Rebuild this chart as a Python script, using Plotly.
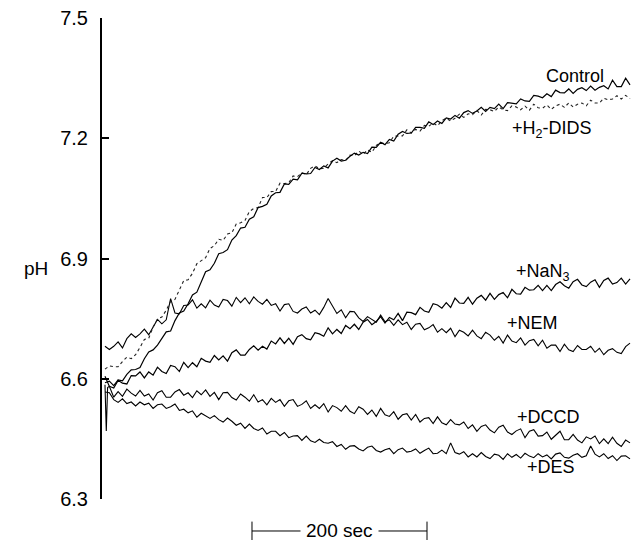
import plotly.graph_objects as go

# time axis (s), shared sampling grid
T = list(range(0, 605, 5))

control = [
    6.590, 6.594, 6.583, 6.597, 6.595, 6.611, 6.622, 6.623, 6.628, 6.650,
    6.667, 6.672, 6.684, 6.701, 6.717, 6.719, 6.745, 6.764, 6.769, 6.787,
    6.809, 6.816, 6.843, 6.867, 6.872, 6.888, 6.912, 6.915, 6.922, 6.946,
    6.957, 6.976, 6.978, 6.998, 7.004, 7.027, 7.030, 7.035, 7.056, 7.064,
    7.065, 7.086, 7.085, 7.098, 7.096, 7.113, 7.111, 7.112, 7.127, 7.122,
    7.131, 7.126, 7.143, 7.150, 7.143, 7.145, 7.155, 7.163, 7.158, 7.165,
    7.162, 7.178, 7.177, 7.190, 7.184, 7.197, 7.193, 7.210, 7.217, 7.212,
    7.213, 7.227, 7.227, 7.225, 7.241, 7.234, 7.243, 7.237, 7.251, 7.248,
    7.257, 7.250, 7.264, 7.269, 7.262, 7.268, 7.277, 7.267, 7.277, 7.274,
    7.285, 7.274, 7.289, 7.288, 7.286, 7.298, 7.293, 7.292, 7.307, 7.305,
    7.301, 7.311, 7.304, 7.320, 7.314, 7.313, 7.323, 7.312, 7.322, 7.326,
    7.319, 7.330, 7.320, 7.327, 7.331, 7.323, 7.345, 7.329, 7.329, 7.350,
    7.333,
]

h2_dids = [
    6.624, 6.632, 6.630, 6.630, 6.643, 6.654, 6.650, 6.660, 6.678, 6.698,
    6.701, 6.729, 6.749, 6.754, 6.771, 6.793, 6.798, 6.822, 6.845, 6.847,
    6.863, 6.887, 6.894, 6.902, 6.925, 6.932, 6.948, 6.945, 6.961, 6.964,
    6.986, 6.989, 6.995, 7.017, 7.025, 7.027, 7.052, 7.052, 7.067, 7.067,
    7.088, 7.087, 7.089, 7.106, 7.104, 7.114, 7.109, 7.125, 7.131, 7.124,
    7.125, 7.136, 7.144, 7.139, 7.147, 7.144, 7.158, 7.156, 7.168, 7.160,
    7.171, 7.165, 7.182, 7.189, 7.186, 7.189, 7.205, 7.206, 7.206, 7.221,
    7.213, 7.222, 7.218, 7.232, 7.230, 7.238, 7.231, 7.244, 7.250, 7.243,
    7.250, 7.260, 7.252, 7.261, 7.259, 7.269, 7.258, 7.272, 7.271, 7.267,
    7.278, 7.271, 7.269, 7.281, 7.278, 7.271, 7.280, 7.270, 7.285, 7.276,
    7.275, 7.283, 7.272, 7.281, 7.285, 7.277, 7.288, 7.278, 7.285, 7.288,
    7.281, 7.295, 7.288, 7.288, 7.300, 7.296, 7.298, 7.306, 7.298, 7.307,
    7.299,
]

nan3 = [
    6.606, 6.581, 6.577, 6.596, 6.589, 6.587, 6.608, 6.607, 6.617, 6.602,
    6.617, 6.609, 6.629, 6.618, 6.613, 6.633, 6.630, 6.618, 6.641, 6.628,
    6.640, 6.630, 6.651, 6.644, 6.641, 6.658, 6.647, 6.657, 6.644, 6.665,
    6.672, 6.659, 6.659, 6.673, 6.682, 6.671, 6.681, 6.674, 6.694, 6.687,
    6.702, 6.688, 6.701, 6.686, 6.705, 6.710, 6.700, 6.697, 6.715, 6.712,
    6.706, 6.727, 6.712, 6.723, 6.713, 6.733, 6.725, 6.736, 6.723, 6.741,
    6.748, 6.735, 6.743, 6.755, 6.739, 6.753, 6.747, 6.763, 6.745, 6.766,
    6.765, 6.760, 6.778, 6.769, 6.766, 6.787, 6.784, 6.776, 6.790, 6.778,
    6.801, 6.789, 6.788, 6.803, 6.786, 6.801, 6.808, 6.796, 6.813, 6.798,
    6.810, 6.815, 6.802, 6.823, 6.812, 6.811, 6.828, 6.821, 6.822, 6.833,
    6.820, 6.833, 6.820, 6.835, 6.842, 6.832, 6.826, 6.842, 6.848, 6.834,
    6.830, 6.841, 6.847, 6.828, 6.845, 6.851, 6.836, 6.840, 6.851, 6.836,
    6.849,
]

nem = [
    6.681, 6.673, 6.681, 6.692, 6.677, 6.700, 6.712, 6.703, 6.712, 6.724,
    6.710, 6.729, 6.748, 6.737, 6.747, 6.800, 6.764, 6.762, 6.783, 6.784,
    6.797, 6.776, 6.787, 6.777, 6.796, 6.784, 6.779, 6.798, 6.795, 6.781,
    6.803, 6.790, 6.802, 6.787, 6.804, 6.793, 6.786, 6.798, 6.783, 6.787,
    6.769, 6.785, 6.787, 6.768, 6.764, 6.774, 6.779, 6.764, 6.771, 6.760,
    6.778, 6.800, 6.782, 6.763, 6.772, 6.752, 6.768, 6.767, 6.752, 6.743,
    6.755, 6.749, 6.741, 6.759, 6.742, 6.747, 6.733, 6.747, 6.735, 6.741,
    6.723, 6.736, 6.738, 6.722, 6.727, 6.735, 6.716, 6.725, 6.715, 6.726,
    6.705, 6.721, 6.716, 6.707, 6.721, 6.707, 6.700, 6.716, 6.709, 6.696,
    6.706, 6.689, 6.709, 6.694, 6.690, 6.702, 6.684, 6.695, 6.698, 6.682,
    6.696, 6.676, 6.684, 6.684, 6.668, 6.686, 6.672, 6.668, 6.683, 6.673,
    6.673, 6.681, 6.666, 6.676, 6.660, 6.671, 6.675, 6.666, 6.663, 6.680,
    6.689,
]

# DCCD carries an injection artefact right at the start
T_dccd = [0, 1.5, 3] + T[1:]
dccd = [
    6.585, 6.470, 6.578,
    6.581, 6.554, 6.568, 6.556, 6.574, 6.564, 6.557, 6.571, 6.557,
    6.562, 6.547, 6.565, 6.570, 6.554, 6.554, 6.567, 6.573, 6.559, 6.565,
    6.553, 6.570, 6.560, 6.572, 6.556, 6.566, 6.548, 6.565, 6.566, 6.553,
    6.547, 6.562, 6.554, 6.544, 6.560, 6.542, 6.548, 6.535, 6.551, 6.541,
    6.548, 6.531, 6.545, 6.548, 6.531, 6.536, 6.545, 6.526, 6.535, 6.526,
    6.538, 6.517, 6.533, 6.528, 6.519, 6.533, 6.519, 6.513, 6.530, 6.524,
    6.511, 6.522, 6.506, 6.526, 6.510, 6.506, 6.518, 6.499, 6.510, 6.513,
    6.497, 6.511, 6.492, 6.501, 6.503, 6.488, 6.505, 6.490, 6.485, 6.498,
    6.487, 6.485, 6.492, 6.476, 6.485, 6.469, 6.481, 6.485, 6.472, 6.465,
    6.479, 6.484, 6.467, 6.461, 6.470, 6.475, 6.453, 6.469, 6.473, 6.457,
    6.458, 6.467, 6.449, 6.460, 6.469, 6.448, 6.448, 6.461, 6.447, 6.440,
    6.455, 6.450, 6.457, 6.438, 6.450, 6.438, 6.454, 6.439, 6.431, 6.447,
    6.440,
]

des = [
    6.567, 6.565, 6.548, 6.541, 6.550, 6.538, 6.542, 6.532, 6.542, 6.535,
    6.539, 6.526, 6.535, 6.537, 6.526, 6.530, 6.537, 6.521, 6.524, 6.515,
    6.520, 6.504, 6.514, 6.508, 6.501, 6.508, 6.498, 6.492, 6.502, 6.494,
    6.484, 6.489, 6.476, 6.487, 6.476, 6.471, 6.477, 6.462, 6.469, 6.469,
    6.458, 6.466, 6.453, 6.457, 6.458, 6.446, 6.457, 6.445, 6.441, 6.449,
    6.441, 6.439, 6.443, 6.431, 6.436, 6.424, 6.432, 6.433, 6.425, 6.420,
    6.429, 6.432, 6.421, 6.417, 6.423, 6.426, 6.413, 6.423, 6.427, 6.417,
    6.419, 6.425, 6.414, 6.421, 6.427, 6.413, 6.414, 6.422, 6.413, 6.440,
    6.416, 6.412, 6.418, 6.405, 6.413, 6.405, 6.416, 6.406, 6.401, 6.412,
    6.409, 6.399, 6.413, 6.404, 6.411, 6.402, 6.414, 6.407, 6.403, 6.413,
    6.405, 6.410, 6.400, 6.412, 6.415, 6.404, 6.402, 6.409, 6.413, 6.404,
    6.408, 6.432, 6.412, 6.405, 6.413, 6.401, 6.408, 6.396, 6.407, 6.408,
    6.400,
]

y_ticks = [6.3, 6.6, 6.9, 7.2, 7.5]
y_tick_text = ["6.3", "6.6", "6.9", "7.2", "7.5"]

labels = [
    ("Control", 537, 7.355),
    ("+H<sub>2</sub>-DIDS", 511, 7.221),
    ("+NaN<sub>3</sub>", 500, 6.864),
    ("+NEM", 488, 6.739),
    ("+DCCD", 507, 6.505),
    ("+DES", 510, 6.380),
]

scale_start, scale_len = 168, 200

FONT = "Liberation Sans, Arial, Helvetica, sans-serif"

fig = go.Figure()
series = [
    (T, des, dict(color="black", width=1.1)),
    (T_dccd, dccd, dict(color="black", width=1.1)),
    (T, nem, dict(color="black", width=1.1)),
    (T, nan3, dict(color="black", width=1.2)),
    (T, h2_dids, dict(color="#222", width=1.1, dash="dot")),
    (T, control, dict(color="black", width=1.2)),
]
for xs, ys, ln in series:
    fig.add_trace(go.Scatter(x=xs, y=ys, mode="lines", line=ln,
                             showlegend=False, hoverinfo="skip"))

for text, x, y in labels:
    fig.add_annotation(x=x, y=y, text=text, showarrow=False,
                       font=dict(family=FONT, size=18, color="black"))

fig.add_annotation(x=0, xref="paper", xanchor="center", xshift=-66, y=6.875,
                   text="pH", showarrow=False,
                   font=dict(family=FONT, size=19, color="black"))

# time scale bar
ybar = -0.0665
fig.add_shape(type="line", xref="x", yref="paper",
              x0=scale_start, x1=scale_start + scale_len, y0=ybar, y1=ybar,
              line=dict(color="black", width=1))
for xe in (scale_start, scale_start + scale_len):
    fig.add_shape(type="line", xref="x", yref="paper",
                  x0=xe, x1=xe, y0=-0.047, y1=-0.086,
                  line=dict(color="black", width=1))
fig.add_annotation(x=scale_start + scale_len / 2, xref="x", y=ybar, yref="paper",
                   xanchor="center", yanchor="middle",
                   text="200 sec", showarrow=False, bgcolor="white", borderpad=5,
                   font=dict(family=FONT, size=19, color="black"))

fig.update_layout(
    width=633, height=540,
    margin=dict(l=102, r=0, t=18, b=41),
    paper_bgcolor="white", plot_bgcolor="white",
    font=dict(family=FONT, size=19, color="black"),
    xaxis=dict(range=[-3.4, 603.4], visible=False, showgrid=False, zeroline=False),
    yaxis=dict(range=[6.3, 7.5], tickvals=y_ticks, ticktext=y_tick_text,
               showline=True, linecolor="black", linewidth=2,
               ticks="inside", ticklen=7, tickwidth=2, tickcolor="black",
               showgrid=False, zeroline=False, ticklabelstandoff=8,
               tickfont=dict(family=FONT, size=20, color="black")),
)

fig.write_html("out.html",
               config={"displayModeBar": False},
               post_script="document.body.style.margin='0';document.body.style.overflow='hidden';")
